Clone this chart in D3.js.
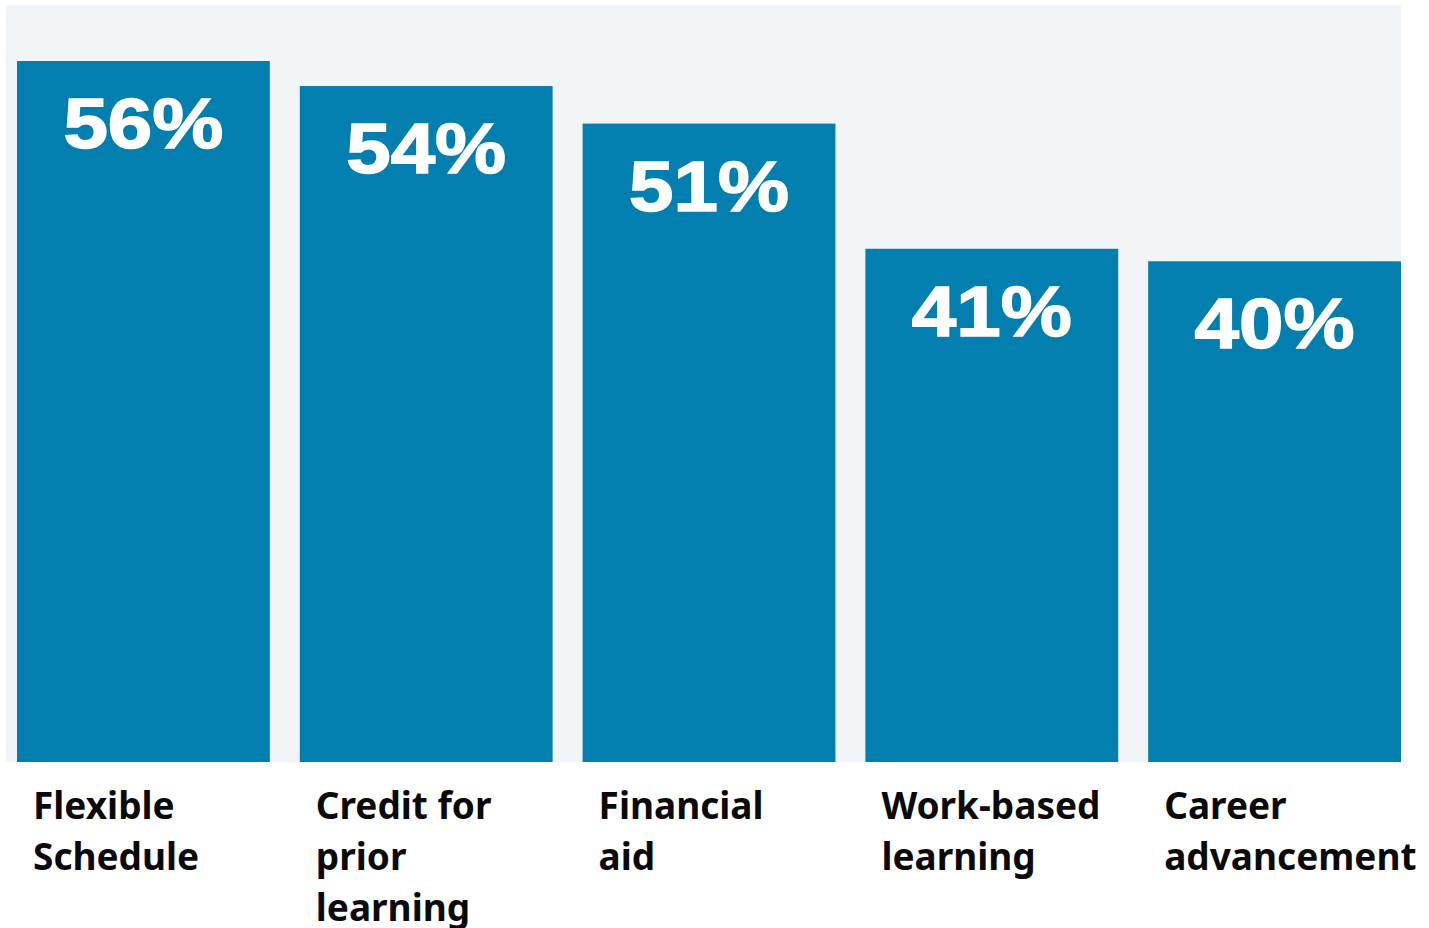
<!DOCTYPE html>
<html>
<head>
<meta charset="utf-8">
<script src="https://cdn.jsdelivr.net/npm/d3@7"></script>
<style>
  body { margin: 0; background: #fff; }
  svg { display: block; }
</style>
</head>
<body>
<svg id="chart" width="1429" height="928"></svg>
<script>
// data
const categories = ["Flexible Schedule", "Credit for prior learning", "Financial aid", "Work-based learning", "Career advancement"]
const labelLines = [
  ["Flexible", "Schedule"],
  ["Credit for", "prior", "learning"],
  ["Financial", "aid"],
  ["Work-based", "learning"],
  ["Career", "advancement"]
]
const values = [56, 54, 51, 41, 40]

const svg = d3.select("#chart")

const panel = { left: 6, right: 1401, top: 5, bottom: 762 }

let x = d3.scaleBand()
  .domain(categories)
  .range([17, 1401])
  .paddingInner(0.106)
  .paddingOuter(0)

let y = d3.scaleLinear()
  .domain([0, 56])
  .range([panel.bottom, 61])

// light panel behind the bars
svg.append("rect")
  .attr("x", panel.left)
  .attr("y", panel.top)
  .attr("width", panel.right - panel.left)
  .attr("height", panel.bottom - panel.top)
  .attr("fill", "#f2f5f8")

let bars = svg.append("g")
  .selectAll("g")
  .data(categories)
  .join("g")

bars.append("rect")
  .attr("x", d => x(d))
  .attr("y", (d, i) => y(values[i]))
  .attr("width", x.bandwidth())
  .attr("height", (d, i) => y(0) - y(values[i]))
  .attr("fill", "#027fae")

bars.append("text")
  .attr("x", d => x(d) + x.bandwidth() / 2)
  .attr("y", (d, i) => y(values[i]) + 87)
  .attr("text-anchor", "middle")
  .attr("font-family", "Liberation Sans, Arial, sans-serif")
  .attr("font-weight", "bold")
  .attr("font-size", 71)
  .attr("fill", "#fff")
  .attr("stroke", "#fff")
  .attr("stroke-width", 1.5)
  .attr("textLength", 160)
  .attr("lengthAdjust", "spacingAndGlyphs")
  .text((d, i) => values[i] + "%")

// category labels under the bars
let labels = svg.append("g")
  .selectAll("text")
  .data(categories)
  .join("text")
  .attr("x", d => x(d) + 16)
  .attr("y", 819)
  .attr("font-family", "Noto Sans, sans-serif")
  .attr("font-weight", "bold")
  .attr("font-size", 37)
  .attr("fill", "#0a0a0a")

labels.selectAll("tspan")
  .data((d, i) => labelLines[i])
  .join("tspan")
  .attr("x", function () { return d3.select(this.parentNode).attr("x") })
  .attr("dy", (d, j) => j === 0 ? 0 : 51)
  .text(d => d)
</script>
</body>
</html>
